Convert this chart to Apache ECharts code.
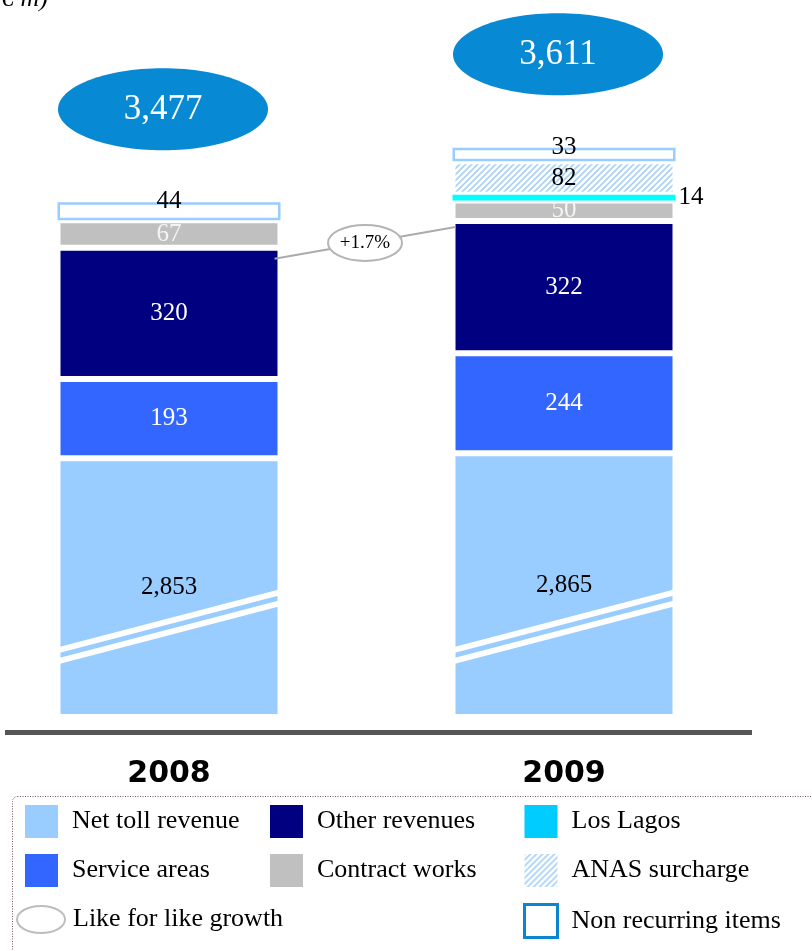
<!DOCTYPE html>
<html>
<head>
<meta charset="utf-8">
<script src="https://cdn.jsdelivr.net/npm/echarts@6/dist/echarts.min.js"></script>
<style>
  html, body { margin: 0; padding: 0; background: #fff; }
  #chart { width: 812px; height: 951px; }
</style>
</head>
<body>
<div id="chart"></div>
<script>
// Revenue breakdown, 2008 vs 2009 (€ m)
const categories = ['2008', '2009'];
const netTollRevenue = [2853, 2865];
const serviceAreas = [193, 244];
const otherRevenues = [320, 322];
const contractWorks = [67, 50];
const losLagos = [null, 14];
const anasSurcharge = [null, 82];
const nonRecurringItems = [44, 33];
const totalRevenues = [3477, 3611];
const likeForLikeGrowth = ['+1.7%'];
// value range squeezed out of the tall net toll bars
const axisBreak = { start: 220, end: 2442 };

const SERIF = "'Liberation Serif', 'DejaVu Serif', serif";
const BAR_W = 223;
const fmt = v => Number(v).toLocaleString('en-US');

// diagonal light-blue hatching for the ANAS surcharge
function hatchPattern() {
  const s = 6;
  const c = document.createElement('canvas');
  c.width = s; c.height = s;
  const g = c.getContext('2d');
  g.fillStyle = '#ffffff';
  g.fillRect(0, 0, s, s);
  g.strokeStyle = '#A9D1F7';
  g.lineWidth = 1.6;
  g.beginPath();
  g.moveTo(-1, s + 1); g.lineTo(s + 1, -1);
  g.moveTo(-1, 1); g.lineTo(1, -1);
  g.moveTo(s - 1, s + 1); g.lineTo(s + 1, s - 1);
  g.stroke();
  return { image: c, repeat: 'repeat' };
}

function barSeries(name, data, color, labelColor, extra) {
  const base = {
    type: 'bar',
    name: name,
    data: data,
    stack: 'revenue',
    barWidth: BAR_W,
    clip: false,
    itemStyle: { color: color, borderColor: '#ffffff', borderWidth: 3 },
    label: {
      show: true,
      position: 'inside',
      fontFamily: SERIF,
      fontSize: 25,
      color: labelColor,
      formatter: p => fmt(p.value)
    }
  };
  return Object.assign(base, extra || {});
}

const recurringBase = [0, 1].map(i => netTollRevenue[i] + serviceAreas[i] + otherRevenues[i]);

const chart = echarts.init(document.getElementById('chart'), null, { renderer: 'canvas' });

const legendBase = {
  orient: 'vertical',
  padding: 0,
  itemWidth: 33,
  itemHeight: 33,
  itemGap: 16,
  selectedMode: false,
  icon: 'rect',
  textStyle: { fontFamily: SERIF, fontSize: 26, color: '#000', padding: [0, 0, 0, 9] },
  itemStyle: { borderWidth: 0 }
};

const option = {
  animation: false,
  backgroundColor: '#ffffff',
  grid: { left: 169, right: 248, top: 0, bottom: 234 },
  xAxis: {
    type: 'category',
    data: categories,
    boundaryGap: false,
    axisLine: { show: false },
    axisTick: { show: false },
    splitLine: { show: false },
    axisLabel: {
      margin: 42,
      fontFamily: 'DejaVu Sans',
      fontWeight: 'bold',
      fontSize: 30,
      color: '#000'
    }
  },
  yAxis: {
    type: 'value',
    min: 0,
    max: 3970,
    show: false,
    splitLine: { show: false },
    breaks: [{ start: axisBreak.start, end: axisBreak.end, gap: 0 }],
    breakArea: { show: false }
  },
  legend: [
    Object.assign({}, legendBase, {
      left: 25, top: 805,
      data: ['Net toll revenue', 'Service areas']
    }),
    Object.assign({}, legendBase, {
      left: 270, top: 805,
      data: ['Other revenues', 'Contract works']
    }),
    Object.assign({}, legendBase, {
      left: 523, top: 805,
      data: [
        { name: 'Los Lagos', itemStyle: { color: '#00CCFF', borderWidth: 0 },
          textStyle: { padding: [0, 0, 10, 9] } },
        { name: 'ANAS surcharge' },
        { name: 'Non recurring items',
          itemStyle: { color: '#ffffff', borderColor: '#0A86D0', borderWidth: 3 } }
      ]
    }),
    Object.assign({}, legendBase, {
      left: 16, top: 905,
      itemWidth: 48, itemHeight: 27,
      symbolKeepAspect: false,
      textStyle: { fontFamily: SERIF, fontSize: 26, color: '#000', padding: [0, 0, 0, 3] },
      data: [{
        name: 'Like for like growth',
        icon: 'path://M0,20A35,20,0,1,1,70,20A35,20,0,1,1,0,20Z',
        itemStyle: { color: '#ffffff', borderColor: '#BDBDBD', borderWidth: 2 }
      }]
    })
  ],
  graphic: [
    {
      type: 'text',
      x: 48, y: 12,
      style: {
        text: '(€ m)',
        font: `italic 26px ${SERIF}`,
        fill: '#000',
        align: 'right',
        verticalAlign: 'bottom'
      }
    },
    {
      type: 'line',
      shape: { x1: 5, y1: 732.5, x2: 752, y2: 732.5 },
      style: { stroke: '#555555', lineWidth: 5 }
    },
    {
      type: 'rect',
      shape: { x: 12.5, y: 796.5, width: 830, height: 180, r: 5 },
      style: { fill: 'none', stroke: '#6E5064', lineWidth: 1, lineDash: [1, 1.5] }
    }
  ],
  series: [
    barSeries('Net toll revenue', netTollRevenue, '#99CCFF', '#000'),
    barSeries('Service areas', serviceAreas, '#3366FF', '#ffffff'),
    barSeries('Other revenues', otherRevenues, '#000080', '#ffffff'),
    barSeries('Contract works', contractWorks, '#C0C0C0', '#F4F4F4'),
    barSeries('Los Lagos', losLagos, '#00FFFF', '#000', {
      z: 3,
      itemStyle: { color: '#00FFFF', borderWidth: 0 },
      label: { show: true, position: 'right', distance: 3, fontFamily: SERIF, fontSize: 25,
               color: '#000', formatter: p => fmt(p.value) }
    }),
    barSeries('ANAS surcharge', anasSurcharge, hatchPattern(), '#000'),
    barSeries('Non recurring items', nonRecurringItems, '#ffffff', '#000', {
      z: 3,
      itemStyle: { color: '#ffffff', borderColor: '#99CCFF', borderWidth: 2.5 },
      label: { show: true, position: 'top', distance: -12, fontFamily: SERIF, fontSize: 25,
               color: '#000', formatter: p => fmt(p.value) }
    }),
    {
      // double white slash across the squeezed part of each net toll bar
      type: 'custom',
      name: 'break marks',
      silent: true,
      clip: false,
      z: 5,
      data: categories.map((c, i) => [i, axisBreak.start]),
      renderItem: function (params, api) {
        const p = api.coord([api.value(0), api.value(1)]);
        const half = BAR_W / 2 - 1.5;
        const rise = 28.75;
        return {
          type: 'group',
          children: [-5.5, 5.5].map(off => ({
            type: 'polygon',
            shape: {
              points: [
                [p[0] - half, p[1] + off + rise - 3],
                [p[0] + half, p[1] + off - rise - 3],
                [p[0] + half, p[1] + off - rise + 3],
                [p[0] - half, p[1] + off + rise + 3]
              ]
            },
            style: { fill: '#ffffff' }
          }))
        };
      }
    },
    {
      // total revenue bubble above each column
      type: 'custom',
      name: 'Total',
      silent: true,
      clip: false,
      z: 6,
      data: totalRevenues.map((v, i) => [i, v]),
      renderItem: function (params, api) {
        const p = api.coord([api.value(0), api.value(1)]);
        const cx = p[0] - 6;
        const cy = p[1] - 93;
        return {
          type: 'group',
          children: [
            { type: 'ellipse', shape: { cx: cx, cy: cy, rx: 105, ry: 41 },
              style: { fill: '#0789D3' } },
            { type: 'text', x: cx, y: cy + 1,
              style: { text: fmt(api.value(1)), fill: '#ffffff', font: `35px ${SERIF}`,
                       align: 'center', verticalAlign: 'middle' } }
          ]
        };
      }
    },
    {
      // like-for-like growth connector between the recurring totals
      type: 'custom',
      name: 'Like for like growth',
      silent: true,
      clip: false,
      z: 6,
      itemStyle: { color: '#ffffff', borderColor: '#BDBDBD' },
      encode: { x: 0, y: 1 },
      data: [[0, recurringBase[0], recurringBase[1]]],
      renderItem: function (params, api) {
        const a = api.coord([0, api.value(1)]);
        const b = api.coord([1, api.value(2)]);
        const half = BAR_W / 2;
        const x1 = a[0] + half - 6, y1 = a[1] + 11;
        const x2 = b[0] - half + 3, y2 = b[1] + 6;
        const cx = (x1 + x2) / 2, cy = (y1 + y2) / 2;
        return {
          type: 'group',
          children: [
            { type: 'line', shape: { x1: x1, y1: y1, x2: x2, y2: y2 },
              style: { stroke: '#ABABAB', lineWidth: 2 } },
            { type: 'ellipse', shape: { cx: cx, cy: cy, rx: 37, ry: 18 },
              style: { fill: '#ffffff', stroke: '#B4B4B4', lineWidth: 2 } },
            { type: 'text', x: cx, y: cy,
              style: { text: likeForLikeGrowth[0], fill: '#000', font: `19px ${SERIF}`,
                       align: 'center', verticalAlign: 'middle' } }
          ]
        };
      }
    }
  ]
};

chart.setOption(option);
</script>
</body>
</html>
